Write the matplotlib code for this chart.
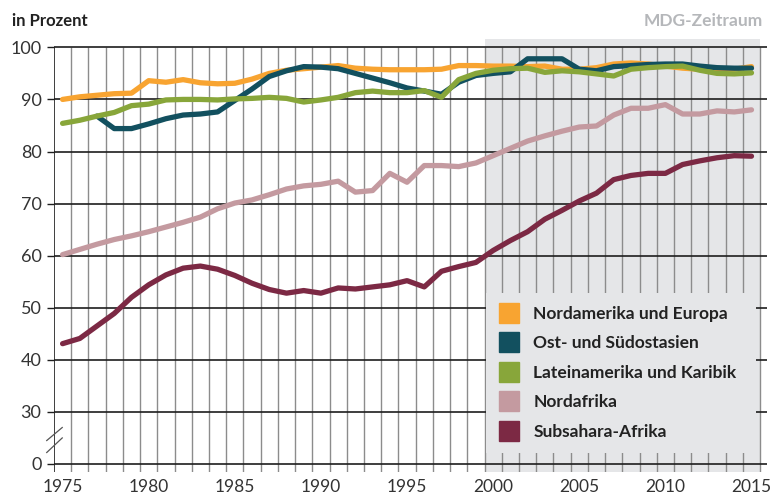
import matplotlib.pyplot as plt
from matplotlib.lines import Line2D
import numpy as np

years = list(range(1975, 2016))

nordamerika_europa = [90.0, 90.5, 90.8, 91.1, 91.2, 93.6, 93.3, 93.8, 93.2, 93.0,
                      93.1, 93.9, 95.0, 95.6, 95.9, 96.2, 96.5, 96.0, 95.8, 95.7,
                      95.7, 95.7, 95.8, 96.5, 96.5, 96.4, 96.4, 96.3, 96.4, 95.8,
                      95.8, 96.1, 96.8, 97.0, 96.8, 96.4, 96.0, 95.8, 95.6, 95.8, 96.3]
ost_suedostasien = [np.nan, np.nan, 86.8, 84.4, 84.4, 85.3, 86.3, 87.0, 87.2, 87.6,
                    89.8, 92.0, 94.4, 95.5, 96.3, 96.2, 95.9, 95.0, 94.1, 93.2,
                    92.2, 91.6, 91.0, 93.3, 94.6, 95.0, 95.3, 97.8, 97.8, 97.8,
                    95.8, 95.5, 96.3, 96.5, 96.7, 96.8, 96.8, 96.4, 96.1, 96.0, 96.0]
lateinamerika = [85.4, 86.0, 86.8, 87.5, 88.8, 89.1, 89.9, 90.0, 90.0, 89.9,
                 90.1, 90.2, 90.4, 90.2, 89.5, 89.9, 90.4, 91.3, 91.6, 91.3,
                 91.3, 91.7, 90.4, 93.8, 95.0, 95.6, 95.9, 96.0, 95.2, 95.5,
                 95.3, 94.9, 94.5, 95.8, 96.1, 96.3, 96.4, 95.6, 95.0, 94.9, 95.1]
nordafrika = [60.2, 61.2, 62.2, 63.1, 63.8, 64.6, 65.5, 66.4, 67.4, 69.0,
              70.1, 70.7, 71.7, 72.8, 73.4, 73.7, 74.3, 72.2, 72.5, 75.8,
              74.1, 77.3, 77.3, 77.1, 77.8, 79.2, 80.6, 82.0, 83.0, 83.9,
              84.7, 84.9, 87.0, 88.3, 88.3, 89.0, 87.2, 87.2, 87.8, 87.6, 88.0]
subsahara = [43.1, 44.1, 46.5, 48.9, 52.0, 54.4, 56.3, 57.6, 58.0, 57.4,
             56.2, 54.7, 53.5, 52.8, 53.3, 52.8, 53.8, 53.6, 54.0, 54.4,
             55.2, 54.0, 57.0, 57.9, 58.7, 61.0, 62.9, 64.6, 67.0, 68.7,
             70.5, 72.0, 74.6, 75.4, 75.8, 75.8, 77.5, 78.2, 78.8, 79.2, 79.1]

series = [nordamerika_europa, ost_suedostasien, lateinamerika, nordafrika, subsahara]
labels = ["Nordamerika und Europa", "Ost- und Südostasien",
          "Lateinamerika und Karibik", "Nordafrika", "Subsahara-Afrika"]
colors = ["#f8a431", "#12505f", "#88a63a", "#c49aa0", "#7c2944"]

# axis is broken: 0 is drawn one step below 30
ytick_pos = [20, 30, 40, 50, 60, 70, 80, 90, 100]
ytick_labels = ["0", "30", "40", "50", "60", "70", "80", "90", "100"]
xtick_years = [1975, 1980, 1985, 1990, 1995, 2000, 2005, 2010, 2015]

plt.rcParams['font.family'] = ['Lato', 'DejaVu Sans']

fig = plt.figure(figsize=(7.71, 4.97), dpi=100)
ax = fig.add_axes([0.070, 0.0497, 0.9248, 0.8718])
ax.set_xlim(1974.5, 2015.9)
ax.set_ylim(18.4, 101.6)
for s in ax.spines.values():
    s.set_visible(False)

# MDG period shading
ax.axvspan(1999.5, 2015.5, ymin=0, ymax=1, color="#e5e6e8", lw=0, zorder=0)

# grid
ax.vlines(np.arange(1975.5, 2016, 1), 18.5, 100, color="#8c8c8c", lw=1.0, zorder=1)
ax.hlines(ytick_pos, 1974.5, 2015.9, color="#1e1e1e", lw=1.2, zorder=2)
ax.vlines(1974.5, 18.5, 100, color="#1e1e1e", lw=1.2, zorder=2)

# break marks
ax.plot([1974.08, 1974.98], [24.5, 27.0], color="#555", lw=0.9, clip_on=False, zorder=3)
ax.plot([1974.08, 1974.98], [22.2, 25.0], color="#555", lw=0.9, clip_on=False, zorder=3)

for vals, c in zip(series, colors):
    ax.plot(years, vals, color=c, lw=3.8, solid_capstyle='round',
            solid_joinstyle='round', zorder=4)

ax.set_yticks(ytick_pos)
ax.set_yticklabels(ytick_labels)
ax.set_xticks(xtick_years)
ax.set_xticklabels([str(y) for y in xtick_years])
ax.tick_params(axis='y', length=5, width=1.0, color="#1e1e1e", pad=4,
               labelsize=13, labelcolor="#333333")
ax.tick_params(axis='x', length=0, pad=5, labelsize=12.5, labelcolor="#333333")

handles = [Line2D([0], [0], marker='s', linestyle='none', markersize=15,
                  markerfacecolor=c, markeredgecolor=c) for c in colors]
leg = ax.legend(handles, labels, loc='lower left',
                bbox_to_anchor=(0.630, 0.0885, 0.351, 0.324),
                bbox_transform=fig.transFigure, mode='expand',
                frameon=True, fancybox=False, framealpha=1,
                facecolor="#e5e6e8", edgecolor="none",
                borderpad=0.75, labelspacing=0.78, handlelength=1.2,
                handletextpad=0.8, borderaxespad=0,
                prop={'weight': 'bold', 'size': 12.5})
leg.set_zorder(5)
for t in leg.get_texts():
    t.set_color("#222222")

fig.text(0.015, 0.957, "in Prozent", fontsize=12, fontweight='bold',
         color="#222222", va='center', ha='left')
fig.text(0.99, 0.957, "MDG-Zeitraum", fontsize=12.5, fontweight='bold',
         color="#b5b7ba", va='center', ha='right')

fig.savefig("out.png", dpi=100)
